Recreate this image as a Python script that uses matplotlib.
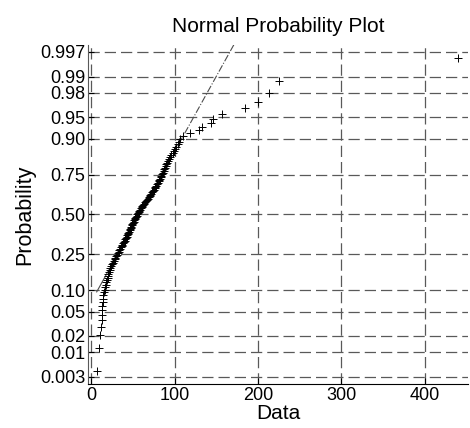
import numpy as np
import matplotlib
matplotlib.use('Agg')
import matplotlib.pyplot as plt
from statistics import NormalDist

# sorted sample values
data = [6.5, 9.5, 11.0, 12.0, 12.3, 12.6, 12.9, 13.3, 13.6, 14.0,
        14.6, 15.2, 16.0, 16.8, 17.5, 18.2, 18.9, 19.5, 20.0, 20.6,
        21.4, 22.1, 23.0, 23.9, 24.8, 25.9, 27.0, 28.1, 29.0, 30.1,
        31.0, 32.0, 33.0, 33.8, 34.6, 35.5, 36.4, 37.3, 38.2, 39.5,
        40.3, 41.0, 41.6, 42.3, 43.0, 43.7, 44.5, 45.2, 46.0, 46.8,
        47.5, 48.1, 48.8, 49.4, 50.0, 50.7, 51.4, 52.1, 52.9, 53.6,
        54.3, 55.0, 55.9, 56.8, 57.7, 58.6, 59.6, 60.5, 61.4, 62.3,
        63.4, 64.5, 65.5, 66.6, 67.8, 68.8, 69.9, 70.8, 71.8, 72.9,
        73.9, 74.9, 76.0, 77.0, 78.0, 78.9, 79.8, 80.8, 81.6, 82.5,
        83.4, 84.2, 85.0, 86.0, 86.8, 87.6, 88.5, 89.3, 90.1, 91.0,
        92.2, 93.4, 94.6, 96.0, 97.5, 99.0, 100.5, 102.0, 103.5, 105.0,
        107.0, 110.5, 119.0, 129.0, 133.0, 143.0, 146.0, 157.0, 184.0, 200.0,
        213.0, 225.0, 440.0]

prob_ticks = [0.003, 0.01, 0.02, 0.05, 0.10, 0.25, 0.50, 0.75, 0.90, 0.95, 0.98, 0.99, 0.997]
prob_labels = ['0.003', '0.01', '0.02', '0.05', '0.10', '0.25', '0.50', '0.75',
               '0.90', '0.95', '0.98', '0.99', '0.997']
x_ticks = [0, 100, 200, 300, 400]

plt.rcParams['font.family'] = ['Liberation Sans', 'DejaVu Sans']

nd = NormalDist()
x = np.sort(np.array(data))
n = len(x)
z = np.array([nd.inv_cdf((i - 0.5) / n) for i in range(1, n + 1)])

# reference line through the quartiles
q1, q3 = np.percentile(x, [25, 75])
z1, z3 = nd.inv_cdf(0.25), nd.inv_cdf(0.75)
slope = (z3 - z1) / (q3 - q1)
def fit(v):
    return z1 + (np.asarray(v) - q1) * slope

fig = plt.figure(figsize=(4.7, 4.28), dpi=100)
ax = fig.add_axes([0.188, 0.103, 0.808, 0.792])

gc = '0.3'
ax.plot([q1, q3], fit([q1, q3]), '-', color=gc, lw=0.8)
ax.plot([x.min(), q1], fit([x.min(), q1]), '-', color=gc, lw=0.8)
ax.plot([q3, x.max()], fit([q3, x.max()]), '-.', color=gc, lw=0.8)
ax.plot(x, z, '+', color='black', ms=6, mew=0.7)

ax.set_xlim(-3.5, 452)
ax.set_ylim(-2.866, 2.866)
ax.set_xticks(x_ticks)
ax.set_yticks([nd.inv_cdf(p) for p in prob_ticks])
ax.set_yticklabels(prob_labels)
ax.grid(True, color='0.35', linestyle=(0, (9, 4)), linewidth=0.9)
ax.set_axisbelow(True)

for s in ['top', 'right']:
    ax.spines[s].set_visible(False)
ax.spines['left'].set_color('0.35')
ax.spines['bottom'].set_color('black')
ax.tick_params(direction='in', length=4, labelsize=13, colors='black', pad=2)

ax.set_title('Normal Probability Plot', fontsize=15, pad=9)
ax.set_xlabel('Data', fontsize=15, labelpad=0)
ax.set_ylabel('Probability', fontsize=15.5, labelpad=4)

fig.savefig('out.png', dpi=100)
